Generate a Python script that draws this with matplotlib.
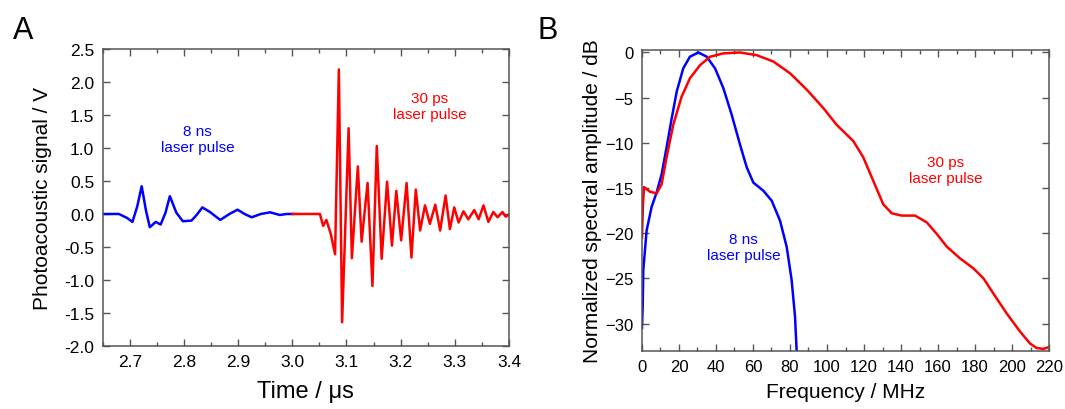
import numpy as np
import matplotlib.pyplot as plt
from matplotlib.ticker import MultipleLocator

plt.rcParams['font.family'] = ['Liberation Sans', 'DejaVu Sans']

# panel A: photoacoustic signals (time in us, signal in V)
t_ns = [2.65, 2.68, 2.695, 2.705, 2.714, 2.722, 2.730, 2.737, 2.748, 2.757, 2.766, 2.774,
        2.786, 2.798, 2.814, 2.824, 2.834, 2.848, 2.867, 2.884, 2.899, 2.912, 2.925,
        2.942, 2.959, 2.977, 2.990, 3.001]
v_ns = [0.0, 0.0, -0.06, -0.12, 0.12, 0.42, 0.05, -0.20, -0.12, -0.16, 0.02, 0.27,
        0.02, -0.11, -0.10, -0.01, 0.10, 0.03, -0.09, 0.0, 0.065, 0.0, -0.05,
        0.0, 0.025, -0.015, 0.0, 0.0]

t_ps = [3.0, 3.051, 3.057, 3.063, 3.071, 3.079, 3.086, 3.092, 3.104, 3.110, 3.121, 3.128,
        3.139, 3.148, 3.156, 3.165, 3.175, 3.184, 3.192, 3.201, 3.211, 3.220, 3.228,
        3.236, 3.245, 3.254, 3.264, 3.273, 3.283, 3.291, 3.299, 3.307, 3.316, 3.325,
        3.336, 3.344, 3.353, 3.362, 3.371, 3.379, 3.388, 3.394, 3.40]
v_ps = [0.0, 0.0, -0.18, -0.09, -0.30, -0.61, 2.19, -1.64, 1.30, -0.67, 0.72, -0.42,
        0.47, -1.09, 1.03, -0.68, 0.49, -0.48, 0.35, -0.40, 0.47, -0.66, 0.37,
        -0.25, 0.13, -0.15, 0.14, -0.25, 0.28, -0.23, 0.10, -0.13, 0.04, -0.08,
        0.06, -0.08, 0.13, -0.12, 0.03, -0.05, 0.03, -0.04, -0.01]

# panel B: normalized spectra (MHz, dB)
f_ns = [0.0, 0.4, 0.7, 2.5, 5.2, 7.9, 10.6, 13.3, 16.1, 18.8, 22.3, 25.9, 30.5, 35.0,
        39.5, 44.0, 48.5, 53.0, 56.6, 60.2, 65.6, 70.1, 74.6, 78.2, 80.9, 82.7, 83.6]
db_ns = [-30.5, -28.0, -24.1, -19.7, -17.1, -15.5, -13.5, -10.5, -7.25, -4.3, -1.76, -0.47,
         0.0, -0.47, -1.76, -3.96, -6.9, -10.2, -12.7, -14.4, -15.3, -16.4, -18.6,
         -21.5, -25.2, -29.2, -33.0]

f_ps = [0.0, 0.5, 1.1, 4.3, 7.9, 10.6, 13.3, 16.9, 21.4, 25.9, 31.4, 36.8, 44.0, 53.0,
        62.0, 71.0, 80.0, 89.0, 98.0, 105.2, 114.2, 119.6, 125.0, 130.4, 135.0, 140.4,
        147.6, 153.9, 159.4, 164.8, 172.0, 179.2, 184.6, 190.0, 197.2, 204.4, 209.7,
        213.3, 216.9, 220.0]
db_ps = [-20.5, -17.0, -14.9, -15.4, -15.6, -14.6, -11.6, -8.0, -4.9, -2.86, -1.4, -0.47,
         -0.1, 0.0, -0.3, -1.0, -2.3, -4.1, -6.15, -8.0, -9.8, -11.6, -14.2, -16.8,
         -17.8, -18.05, -18.05, -18.8, -20.1, -21.5, -22.8, -23.9, -25.0, -26.7,
         -28.9, -30.9, -32.2, -32.7, -32.8, -32.6]

blue = '#0000ff'
red = '#ff0000'
spine = '#555555'

fig = plt.figure(figsize=(10.65, 4.10), dpi=100)
axA = fig.add_axes([0.0964, 0.1537, 0.3815, 0.7244])
axB = fig.add_axes([0.6028, 0.1422, 0.3822, 0.7340])

for ax in (axA, axB):
    for s in ax.spines.values():
        s.set_color(spine)
        s.set_linewidth(1.1)
    ax.tick_params(which='both', direction='in', top=True, right=True,
                   color=spine, width=1.0)
    ax.tick_params(which='major', length=5)
    ax.tick_params(which='minor', length=3)

# A
axA.plot(t_ns, v_ns, color=blue, lw=1.8)
axA.plot(t_ps, v_ps, color=red, lw=1.8)
axA.set_xlim(2.65, 3.4)
axA.set_ylim(-2.0, 2.5)
axA.xaxis.set_major_locator(MultipleLocator(0.1))
axA.xaxis.set_minor_locator(MultipleLocator(0.05))
axA.yaxis.set_major_locator(MultipleLocator(0.5))
axA.xaxis.set_major_formatter(plt.FormatStrFormatter('%.1f'))
axA.yaxis.set_major_formatter(plt.FormatStrFormatter('%.1f'))
axA.tick_params(labelsize=12.5, pad=6)
axA.set_xlabel('Time / \u03bcs', fontsize=17, labelpad=8)
axA.set_ylabel('Photoacoustic signal / V', fontsize=15, labelpad=9)
axA.text(2.825, 1.14, '8 ns\nlaser pulse', color=blue, fontsize=11,
         ha='center', va='center', linespacing=1.2)
axA.text(3.253, 1.64, '30 ps\nlaser pulse', color=red, fontsize=11,
         ha='center', va='center', linespacing=1.2)
fig.text(0.012, 0.905, 'A', fontsize=22)

# B
axB.plot(f_ns, db_ns, color=blue, lw=1.8)
axB.plot(f_ps, db_ps, color=red, lw=1.8)
axB.set_xlim(0, 220)
axB.set_ylim(-33, 0.3)
axB.xaxis.set_major_locator(MultipleLocator(20))
axB.xaxis.set_minor_locator(MultipleLocator(10))
axB.yaxis.set_major_locator(MultipleLocator(5))
axB.tick_params(labelsize=12, pad=6)
axB.set_xlabel('Frequency / MHz', fontsize=15, labelpad=6)
axB.set_ylabel('Normalized spectral amplitude / dB', fontsize=15, labelpad=2)
axB.text(55, -21.5, '8 ns\nlaser pulse', color=blue, fontsize=11,
         ha='center', va='center', linespacing=1.15)
axB.text(164, -13.0, '30 ps\nlaser pulse', color=red, fontsize=11,
         ha='center', va='center', linespacing=1.15)
fig.text(0.505, 0.905, 'B', fontsize=22)

fig.savefig('out.png', dpi=100)
